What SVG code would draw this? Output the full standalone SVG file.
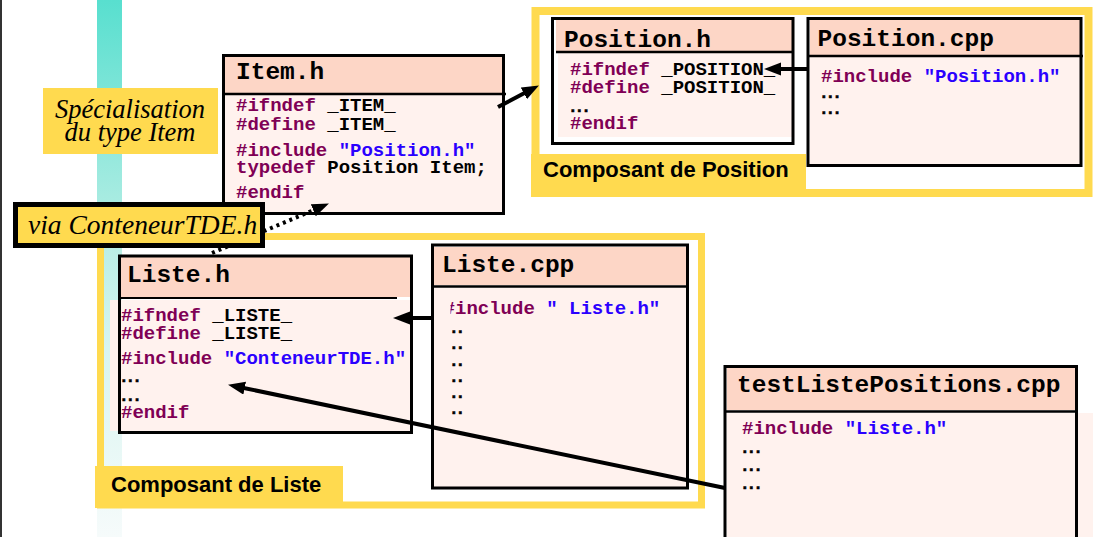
<svg xmlns="http://www.w3.org/2000/svg" width="1093" height="537" viewBox="0 0 1093 537">
<defs>
<linearGradient id="teal" x1="0" y1="0" x2="0" y2="1">
<stop offset="0" stop-color="#58dfcf"/>
<stop offset="0.45" stop-color="#b8eee5"/>
<stop offset="0.65" stop-color="#d8f5f0"/>
<stop offset="1" stop-color="#f6fbfb"/>
</linearGradient>
<marker id="ah" markerUnits="userSpaceOnUse" markerWidth="18" markerHeight="14" refX="6" refY="6.5" orient="auto">
<path d="M0,0 L17,6.5 L0,13 z" fill="#000"/>
</marker>
<clipPath id="clipInc"><rect x="450.5" y="290" width="240" height="40"/></clipPath>
<style>
.mono{font-family:"Liberation Mono","Courier New",monospace;font-weight:bold}
.hd{font-size:24.5px;fill:#000}
.bd{font-size:19px;fill:#000}
.kw{fill:#7f0055}
.str{fill:#2a00ff}
.hdr{fill:#fdd6c6}
.body{fill:#fff2ee}
.border{fill:none;stroke:#000;stroke-width:3}
.div{stroke:#000;stroke-width:2.5}
.frame{fill:none;stroke:#ffda4f}
.ylw{fill:#ffda4f}
.lbl{font-family:"Liberation Sans",Arial,sans-serif;font-weight:bold;font-size:22px;fill:#000}
.cal{font-family:"Liberation Serif","Times New Roman",serif;font-style:italic;fill:#000}
.conn{stroke:#000;stroke-width:4;fill:none}
.dots{font-family:"Liberation Mono","Courier New",monospace;font-weight:bold;font-size:16px;letter-spacing:-3px;fill:#000;stroke:#000;stroke-width:0.6}
</style>
</defs>
<rect x="0" y="0" width="1093" height="537" fill="#fff"/>
<rect x="0" y="0" width="2" height="537" fill="#333"/>
<rect x="97" y="0" width="25" height="537" fill="url(#teal)"/>

<g id="composant-position">
<rect class="frame" x="535.5" y="11" width="553" height="182" stroke-width="8"/>
<rect class="ylw" x="531" y="154" width="275" height="43"/>
<text class="lbl" x="543" y="177">Composant de Position</text>
</g>

<g id="composant-liste">
<rect class="frame" x="100.5" y="236.5" width="601" height="268.5" stroke-width="7"/>
<rect class="ylw" x="95" y="466" width="248" height="42"/>
<text class="lbl" x="111" y="492">Composant de Liste</text>
</g>

<g id="item-h">
<rect class="hdr" x="225" y="57" width="278" height="37"/>
<rect class="body" x="225" y="95" width="278" height="118"/>
<rect class="border" x="223.5" y="55.5" width="280" height="158"/>
<line class="div" x1="222" y1="94" x2="506" y2="94"/>
<text class="mono hd" x="236" y="79">Item.h</text>
<text class="mono bd"><tspan x="236" y="110.5"><tspan class="kw">#ifndef</tspan> _ITEM_</tspan><tspan x="236" y="130"><tspan class="kw">#define</tspan> _ITEM_</tspan><tspan x="236" y="155.5"><tspan class="kw">#include</tspan> <tspan class="str">"Position.h"</tspan></tspan><tspan x="236" y="172.5"><tspan class="kw">typedef</tspan> Position Item;</tspan><tspan class="kw" x="236" y="198">#endif</tspan></text>
</g>

<g id="position-h">
<rect class="hdr" x="556" y="20" width="236" height="32"/>
<rect class="body" x="558" y="53" width="234" height="84"/>
<rect class="border" x="552.5" y="18.5" width="240.5" height="125"/>
<line class="div" x1="556" y1="52" x2="794" y2="52"/>
<text class="mono hd" x="564" y="46.5">Position.h</text>
<text class="mono bd"><tspan x="570" y="75"><tspan class="kw">#ifndef</tspan> _POSITION_</tspan><tspan x="570" y="92.5"><tspan class="kw">#define</tspan> _POSITION_</tspan><tspan class="kw" x="570" y="128.5">#endif</tspan></text>
<text class="dots" x="568" y="111.5">...</text>
</g>

<g id="position-cpp">
<rect class="hdr" x="810" y="20" width="271" height="36"/>
<rect class="body" x="810" y="57" width="271" height="107"/>
<rect class="border" x="808" y="18.5" width="273" height="147"/>
<line class="div" x1="808" y1="56" x2="1083" y2="56"/>
<text class="mono hd" x="817.5" y="46">Position.cpp</text>
<text class="mono bd" x="821" y="81.5"><tspan class="kw">#include</tspan> <tspan class="str">"Position.h"</tspan></text>
<text class="dots"><tspan x="819" y="97.5">...</tspan><tspan x="819" y="113.5">...</tspan></text>
</g>

<g id="liste-h">
<rect class="hdr" x="120" y="257" width="291" height="40"/>
<rect class="body" x="110" y="300" width="303" height="131"/>
<rect class="border" x="119.5" y="256" width="292" height="176.5"/>
<line x1="118" y1="298" x2="397" y2="298" stroke="#000" stroke-width="2"/>
<text class="mono hd" x="127" y="282">Liste.h</text>
<text class="mono bd"><tspan x="121" y="321"><tspan class="kw">#ifndef</tspan> _LISTE_</tspan><tspan x="121" y="339"><tspan class="kw">#define</tspan> _LISTE_</tspan><tspan x="121" y="364"><tspan class="kw">#include</tspan> <tspan class="str">"ConteneurTDE.h"</tspan></tspan><tspan class="kw" x="121" y="418">#endif</tspan></text>
<text class="dots"><tspan x="119" y="382">...</tspan><tspan x="119" y="401">...</tspan></text>
</g>

<g id="liste-cpp">
<rect class="hdr" x="434" y="247" width="252" height="38"/>
<rect class="body" x="434" y="288" width="252" height="199"/>
<rect class="border" x="432.5" y="245" width="255" height="243"/>
<line class="div" x1="432" y1="286.5" x2="688" y2="286.5"/>
<text class="mono hd" x="442" y="271.5">Liste.cpp</text>
<text class="mono bd" x="443.6" y="314" clip-path="url(#clipInc)"><tspan class="kw">#include</tspan> <tspan class="str">" Liste.h"</tspan></text>
<text class="dots"><tspan x="449" y="333">..</tspan><tspan x="449" y="349">..</tspan><tspan x="449" y="366">..</tspan><tspan x="449" y="382">..</tspan><tspan x="449" y="398">..</tspan><tspan x="449" y="414">..</tspan></text>
</g>

<g id="test-liste-positions-cpp">
<rect class="hdr" x="727" y="368" width="348" height="42"/>
<rect class="body" x="727" y="413" width="366" height="124"/>
<rect class="border" x="725" y="366.5" width="351.5" height="200"/>
<line class="div" x1="725" y1="411.5" x2="1078" y2="411.5"/>
<text class="mono hd" x="737" y="392">testListePositions.cpp</text>
<text class="mono bd" x="742" y="434"><tspan class="kw">#include</tspan> <tspan class="str">"Liste.h"</tspan></text>
<text class="dots"><tspan x="740" y="453">...</tspan><tspan x="740" y="471">...</tspan><tspan x="740" y="489">...</tspan></text>
</g>

<g id="connectors">
<line class="conn" x1="498" y1="107" x2="529.2" y2="90.6" marker-end="url(#ah)"/>
<line class="conn" x1="807" y1="69" x2="775" y2="69" marker-end="url(#ah)"/>
<line class="conn" x1="432" y1="318" x2="404" y2="318" marker-end="url(#ah)"/>
<line class="conn" x1="725" y1="488" x2="238.8" y2="387" marker-end="url(#ah)"/>
<line class="conn" x1="212" y1="253" x2="318.8" y2="207.9" stroke-width="3.5" stroke-dasharray="3 4" marker-end="url(#ah)"/>
</g>

<g id="via-conteneur">
<rect x="15.5" y="204.5" width="247" height="41" fill="#ffda4f" stroke="#000" stroke-width="5"/>
<text class="cal" x="28" y="234" font-size="27.5">via ConteneurTDE.h</text>
</g>

<g id="specialisation">
<rect class="ylw" x="43" y="88" width="175" height="66"/>
<text class="cal" x="130" y="118" font-size="26.5" text-anchor="middle">Spécialisation</text>
<text class="cal" x="130" y="141" font-size="26.5" text-anchor="middle">du type Item</text>
</g>
</svg>
